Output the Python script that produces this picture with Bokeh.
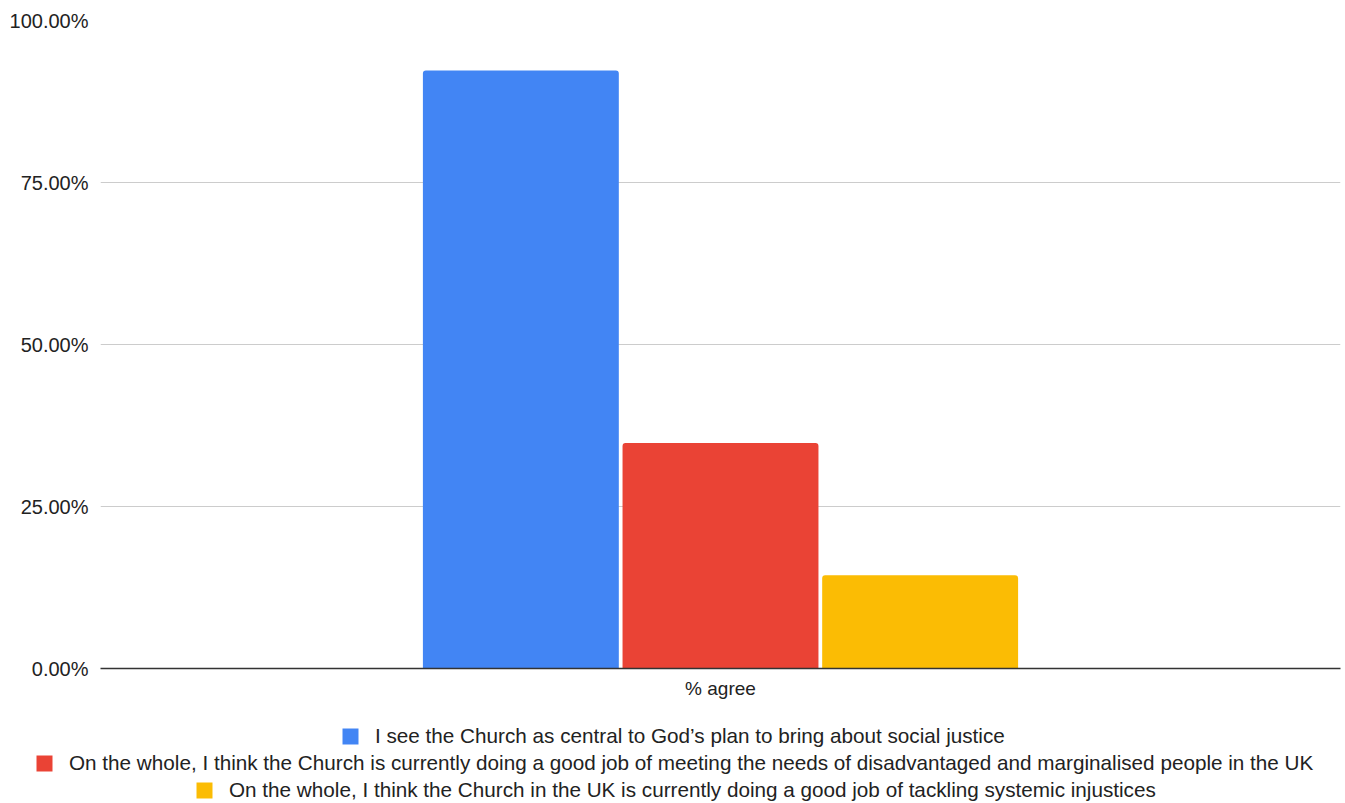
from bokeh.plotting import figure
from bokeh.models import (ColumnDataSource, FactorRange, Range1d, Legend, LegendItem,
                          NumeralTickFormatter, FixedTicker)
from bokeh.transform import dodge
from bokeh.embed import file_html
from bokeh.resources import INLINE

# Survey question and responses
category = ["% agree"]
statements = [
    "I see the Church as central to God\u2019s plan to bring about social justice",
    "On the whole, I think the Church is currently doing a good job of meeting the needs of disadvantaged and marginalised people in the UK",
    "On the whole, I think the Church in the UK is currently doing a good job of tackling systemic injustices",
]
agree_share = [0.923, 0.348, 0.144]
colors = ["#4285F4", "#EA4335", "#FBBC04"]
y_ticks = [0, 0.25, 0.5, 0.75, 1.0]

FONT = "Liberation Sans"
TEXT = "#222222"

# ---- main bar chart ----
p = figure(
    width=1345, height=705,
    x_range=FactorRange(*category, range_padding=0),
    y_range=Range1d(0, 1),
    output_backend="svg", toolbar_location=None,
    min_border_left=100, min_border_right=5, min_border_top=20, min_border_bottom=37,
)

bar_w = 0.158
step = 0.161
offsets = [-step, 0.0, step]
for share, col, off in zip(agree_share, colors, offsets):
    src = ColumnDataSource(dict(cat=category, val=[share]))
    p.vbar(x=dodge("cat", off, range=p.x_range), top="val", width=bar_w, source=src,
           fill_color=col, line_color=None, border_radius=[3, 3, 0, 0])

p.yaxis.ticker = FixedTicker(ticks=y_ticks)
p.yaxis.formatter = NumeralTickFormatter(format="0.00%")
p.yaxis.axis_line_color = None
p.yaxis.major_tick_line_color = None
p.yaxis.minor_tick_line_color = None
p.yaxis.major_label_text_font = FONT
p.yaxis.major_label_text_font_size = "20px"
p.yaxis.major_label_text_color = TEXT
p.yaxis.major_label_standoff = 6

p.xaxis.axis_line_color = "#333333"
p.xaxis.axis_line_width = 1.5
p.xaxis.major_tick_line_color = None
p.xaxis.minor_tick_line_color = None
p.xaxis.major_label_text_font = FONT
p.xaxis.major_label_text_font_size = "19px"
p.xaxis.major_label_text_color = TEXT
p.xaxis.major_label_standoff = 3

p.xgrid.grid_line_color = None
p.ygrid.grid_line_color = "#cccccc"
p.ygrid.grid_line_width = 1
p.outline_line_color = None

# ---- legend strip (separate root, full-width frame): one centred row per statement ----
leg = figure(
    width=1345, height=98,
    x_range=Range1d(0, 1), y_range=Range1d(0, 1),
    x_axis_location=None, y_axis_location=None,
    output_backend="svg", toolbar_location=None,
    min_border_left=0, min_border_right=0, min_border_top=17, min_border_bottom=0,
)
leg.grid.visible = False
leg.outline_line_color = None

# each row's box position (left edge, height above strip bottom), centred by eye
row_pos = [(340, 55), (34, 28), (194, 1)]
for stmt, col, loc in zip(statements, colors, row_pos):
    swatch = leg.vbar(x=[0.5], top=[1], width=0.1, fill_color=col, line_color=None,
                      border_radius=2, visible=False)
    lg = Legend(items=[LegendItem(label=stmt, renderers=[swatch])],
                location=loc, orientation="horizontal",
                label_text_font=FONT, label_text_font_size="20.7px",
                label_text_color=TEXT, glyph_width=20, glyph_height=20,
                label_standoff=15, padding=0, margin=0, spacing=0,
                border_line_color=None, background_fill_alpha=0,
                inactive_fill_alpha=0)
    leg.add_layout(lg, "center")

open("out.html", "w").write(file_html([p, leg], INLINE))
